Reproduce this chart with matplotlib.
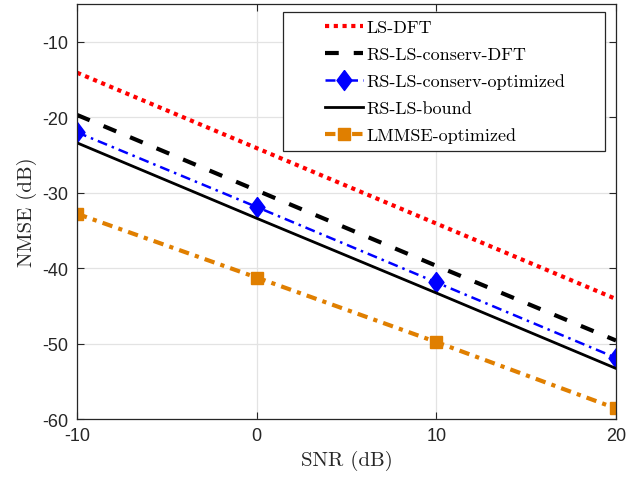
import numpy as np
import matplotlib
matplotlib.use('Agg')
import matplotlib.pyplot as plt
from matplotlib.patches import Rectangle
from matplotlib.path import Path

plt.rcParams['font.family'] = ['Liberation Sans', 'DejaVu Sans']
plt.rcParams['axes.unicode_minus'] = False

# ── data ──────────────────────────────────────────────────────────────────────
snr = [-10, 0, 10, 20]
ls_dft = [-14.1, -24.1, -34.1, -44.1]
rs_conserv_dft = [-19.7, -29.7, -39.7, -49.6]
rs_conserv_opt = [-22.0, -31.9, -41.9, -51.9]
rs_bound = [-23.4, -33.4, -43.3, -53.3]
lmmse_opt = [-32.8, -41.25, -49.8, -58.6]

labels = ['LS-DFT', 'RS-LS-conserv-DFT', 'RS-LS-conserv-optimized',
          'RS-LS-bound', 'LMMSE-optimized']

# MATLAB-like tall diamond
diamond = Path([(0, 1), (0.75, 0), (0, -1), (-0.75, 0), (0, 1)])

fig = plt.figure(figsize=(6.44, 4.81), dpi=100)
ax = fig.add_axes([0.1196, 0.1268, 0.837, 0.8628])

ax.plot(snr, ls_dft, color='#ff0000', lw=3, linestyle=(0, (1, 1.1)),
        dash_capstyle='butt', label=labels[0])
ax.plot(snr, rs_conserv_dft, color='black', lw=3, linestyle=(0, (3.3, 3.6)),
        dash_capstyle='butt', label=labels[1])
ax.plot(snr, rs_conserv_opt, color='#0000ff', lw=1.8, linestyle=(0, (4, 2, 1, 2)),
        marker=diamond, markersize=14.4, label=labels[2])
ax.plot(snr, rs_bound, color='black', lw=2, label=labels[3])
ax.plot(snr, lmmse_opt, color='#e07f00', lw=3, linestyle=(0, (2.5, 1.5, 1, 1.5)),
        dash_capstyle='butt', marker='s', markersize=9.3, label=labels[4])

ax.set_xlim(-10, 20)
ax.set_ylim(-60, -5)
ax.set_xticks([-10, 0, 10, 20])
ax.set_yticks([-60, -50, -40, -30, -20, -10])
ax.grid(True, color='#e3e3e3', lw=0.9)
ax.set_axisbelow(True)

for s in ax.spines.values():
    s.set_color('#262626')
    s.set_linewidth(0.9)
ax.tick_params(direction='in', length=5, width=0.8, color='#262626',
               labelcolor='#262626', labelsize=13, top=True, right=True, pad=6)

ax.set_xlabel('SNR (dB)', fontfamily='cmr10', fontsize=15, color='#262626', labelpad=4)
ax.set_ylabel('NMSE (dB)', fontfamily='cmr10', fontsize=15, color='#262626', labelpad=4)

# legend box drawn by hand (MATLAB leaves a wide left margin)
ax.add_patch(Rectangle((0.382, 0.6465), 0.598, 0.3345, transform=ax.transAxes,
                       facecolor='white', edgecolor='#262626', lw=0.9, zorder=4.5))
leg = ax.legend(loc='center left', bbox_to_anchor=(0.46, 0.8135), frameon=False,
                borderpad=0, borderaxespad=0, handlelength=2.1, handletextpad=0.2,
                labelspacing=0.63, prop={'family': 'cmr10', 'size': 13})
leg.set_zorder(5)

fig.savefig('out.png', dpi=100)
